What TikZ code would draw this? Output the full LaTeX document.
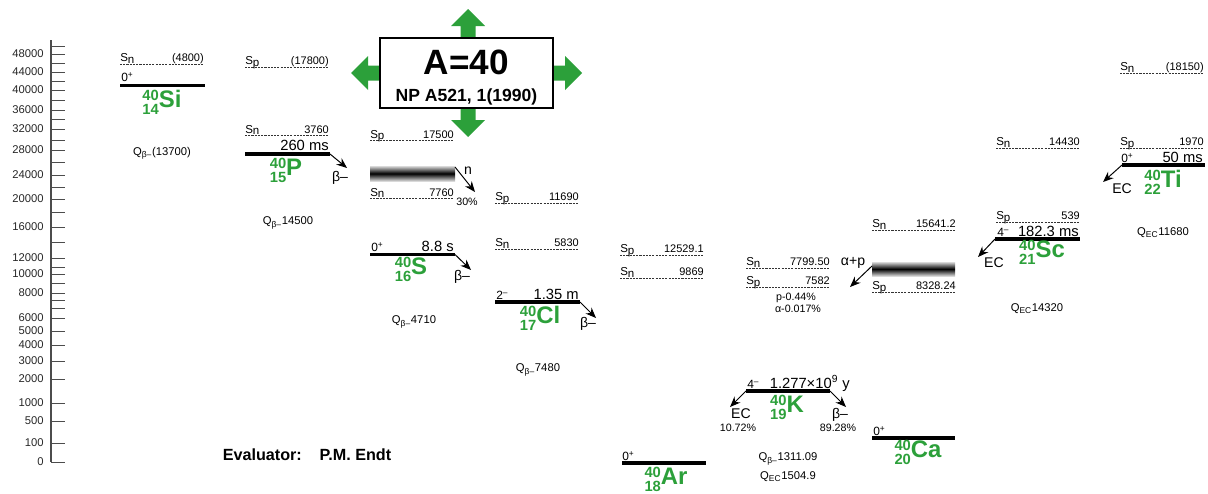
\documentclass[tikz,border=0pt]{standalone}
\usepackage{fontspec}
\setmainfont{Liberation Sans}
\usetikzlibrary{arrows.meta}
\definecolor{nucgreen}{RGB}{44,160,58}

% green nuclide symbol: mass over charge, then element
\newcommand{\nucl}[3]{\textcolor{nucgreen}{\bfseries
  \fontsize{10.5}{8.8}\selectfont\begin{tabular}{@{}r@{}}#1\\#2\end{tabular}%
  \fontsize{17}{17}\selectfont #3}}
\newcommand{\qval}[2]{Q\textsubscript{#1}#2}
% separation energy: name, x, y, n/p, value
\newcommand{\sepen}[5]{%
  \draw[sepline] (#2,#3) -- (#2+84,#3);
  \node[seplab, anchor=base west] (#1l) at (#2,#3-2.5) {S\raisebox{-1.3pt}{#4}};
  \node[sepval, anchor=base east] (#1v) at (#2+84,#3-2.5) {#5};}
% ground level: name, x1, x2, y
\newcommand{\lev}[4]{%
  \coordinate (#1a) at (#2,#4); \coordinate (#1b) at (#3,#4);
  \draw[level] (#1a) -- (#1b);}

\begin{document}
\begin{tikzpicture}[x=0.025cm, y=-0.025cm,
    level/.style={line width=2.2pt},
    sepline/.style={line width=0.5pt, dash pattern=on 1.5pt off 0.8pt, black!80},
    seplab/.style={inner sep=0pt, font=\fontsize{8.2}{8}\selectfont},
    sepval/.style={inner sep=0pt, font=\fontsize{7.8}{8}\selectfont},
    spin/.style={inner sep=0pt, font=\fontsize{8.5}{9}\selectfont},
    life/.style={inner sep=0pt, font=\fontsize{10.5}{11}\selectfont},
    decay/.style={line width=0.7pt, -{Stealth[length=7.5pt, width=6pt]}},
    dlab/.style={inner sep=0pt, font=\fontsize{10}{10}\selectfont},
    small/.style={inner sep=0pt, font=\fontsize{7.6}{8}\selectfont},
    qlab/.style={inner sep=0pt, font=\fontsize{8}{8}\selectfont},
    axlab/.style={inner sep=0pt, anchor=east, font=\fontsize{8}{8}\selectfont, black!85}]
  \useasboundingbox (0,0) rectangle (1208,493);

  % energy axis
  \draw[black!70, line width=0.8pt] (51,40) -- (51,462);
  \foreach \y in {46,63,81,100,119,140,162,187,212,242,267,283,300,308}
    \draw[black!70, line width=0.7pt] (51,\y) -- (65,\y);
  \foreach \v/\y in {48000/54,44000/72,40000/90,36000/110,32000/129,28000/150,
      24000/175,20000/199,16000/227,12000/258,10000/274,8000/293,6000/318,
      5000/331,4000/345,3000/361,2000/379,1000/403,500/421,100/443,0/462} {
    \draw[black!70, line width=0.7pt] (51,\y) -- (65,\y);
    \node[axlab] (ax\v) at (44,\y) {\v};
  }

  % title box with arrows
  \foreach \a/\cx/\cy in {0/468/38, 90/380/73, 180/468/108, -90/553/73}
    \fill[nucgreen, shift={(\cx,\cy)}, rotate=\a]
      (-7.5,0) -- (-7.5,-12) -- (-17,-12) -- (0,-29) -- (17,-12) -- (7.5,-12) -- (7.5,0) -- cycle;
  \node[draw, line width=1.5pt, fill=white, minimum width=4.325cm, minimum height=1.75cm] (tbox) at (466.5,73) {};
  \node[font=\bfseries\fontsize{25}{25}\selectfont] (ttl) at (466.5,62) {A=40};
  \node[font=\bfseries\fontsize{12.5}{13}\selectfont] (tref) at (466.5,97) {NP A521, 1(1990)};

  % 40Si
  \sepen{siSn}{120}{64}{n}{(4800)}
  \lev{si}{120}{205}{85.5}
  \node[spin, anchor=base west] (siJ) at (121,81) {0\textsuperscript{+}};
  \node (siN) at (162,104) {\nucl{40}{14}{Si}};
  \node[qlab] (siQ) at (162,153) {\qval{β–}{(13700)}};

  % 40P
  \sepen{pSp}{245}{67}{p}{(17800)}
  \sepen{pSn}{245}{135.5}{n}{3760}
  \lev{p}{245}{330}{154}
  \node[life, anchor=base east] (pT) at (329,150) {260 ms};
  \coordinate (pE) at (347,168);
  \draw[decay] (pb) -- (pE);
  \node[dlab] (pD) at (340,178) {β–};
  \node (pN) at (286,172) {\nucl{40}{15}{P}};
  \node[qlab] (pQ) at (288,223) {\qval{β–}{14500}};

  % 40S
  \sepen{sSp}{370}{140.5}{p}{17500}
  \shade[top color=black!15, bottom color=black!15, middle color=black] (370,166) rectangle (455,181);
  \coordinate (sbd) at (455,167); \coordinate (snE) at (475,192);
  \draw[decay] (sbd) -- (snE);
  \node[dlab] (sn) at (468,171) {n};
  \sepen{sSn}{370}{198.5}{n}{7760}
  \node[small] (sPct) at (467,202) {30\%};
  \lev{s}{370}{455}{254.5}
  \node[spin, anchor=base west] (sJ) at (371,251) {0\textsuperscript{+}};
  \node[life, anchor=base east] (sT) at (454,251) {8.8 s};
  \coordinate (sE) at (471,270);
  \draw[decay] (sb) -- (sE);
  \node[dlab] (sD) at (462,277) {β–};
  \node (sN) at (411,271) {\nucl{40}{16}{S}};
  \node[qlab] (sQ) at (414,322) {\qval{β–}{4710}};

  % 40Cl
  \sepen{clSp}{495}{203}{p}{11690}
  \sepen{clSn}{495}{249}{n}{5830}
  \lev{cl}{495}{580}{302}
  \node[spin, anchor=base west] (clJ) at (496,299) {2\textsuperscript{–}};
  \node[life, anchor=base east] (clT) at (579,299) {1.35 m};
  \coordinate (clE) at (596,318);
  \draw[decay] (clb) -- (clE);
  \node[dlab] (clD) at (588,324) {β–};
  \node (clN) at (540,320) {\nucl{40}{17}{Cl}};
  \node[qlab] (clQ) at (538,370) {\qval{β–}{7480}};

  % 40Ar
  \sepen{arSp}{620}{255}{p}{12529.1}
  \sepen{arSn}{620}{278}{n}{9869}
  \lev{ar}{622}{706}{463}
  \node[spin, anchor=base west] (arJ) at (622,460) {0\textsuperscript{+}};
  \node (arN) at (666,481) {\nucl{40}{18}{Ar}};

  % 40K
  \sepen{kSn}{746}{268}{n}{7799.50}
  \sepen{kSp}{746}{287}{p}{7582}
  \node[small] (kP) at (796,298) {p-0.44\%};
  \node[small] (kA) at (798,309) {α-0.017\%};
  \lev{k}{746}{830}{391}
  \node[spin, anchor=base west] (kJ) at (747,388) {4\textsuperscript{–}};
  \node[life, anchor=base east] (kT) at (850,388) {1.277×10\textsuperscript{9} y};
  \coordinate (kEC) at (730,407); \coordinate (kBE) at (846,407);
  \draw[decay] (ka) -- (kEC);
  \draw[decay] (kb) -- (kBE);
  \node[dlab] (kD1) at (741,414) {EC};
  \node[small] (kP1) at (738,428) {10.72\%};
  \node[dlab] (kD2) at (840,415) {β–};
  \node[small] (kP2) at (838,428) {89.28\%};
  \node (kN) at (787,409) {\nucl{40}{19}{K}};
  \node[qlab] (kQ1) at (788,459) {\qval{β–}{1311.09}};
  \node[qlab] (kQ2) at (788,477) {\qval{EC}{1504.9}};

  % 40Ca
  \sepen{caSn}{872}{230}{n}{15641.2}
  \shade[top color=black!15, bottom color=black!15, middle color=black] (872,262) rectangle (955,276);
  \coordinate (cabd) at (872,266); \coordinate (caE) at (850,287);
  \draw[decay] (cabd) -- (caE);
  \node[dlab] (caD) at (853,263) {α+p};
  \sepen{caSp}{872}{292}{p}{8328.24}
  \lev{ca}{872}{955}{438}
  \node[spin, anchor=base west] (caJ) at (873,435) {0\textsuperscript{+}};
  \node (caN) at (918,454) {\nucl{40}{20}{Ca}};

  % 40Sc
  \sepen{scSn}{996}{148}{n}{14430}
  \sepen{scSp}{996}{222}{p}{539}
  \lev{sc}{995}{1080}{239}
  \node[spin, anchor=base west] (scJ) at (997,236) {4\textsuperscript{–}};
  \node[life, anchor=base east] (scT) at (1079,236) {182.3 ms};
  \coordinate (scE) at (978,257);
  \draw[decay] (sca) -- (scE);
  \node[dlab] (scD) at (994,263) {EC};
  \node (scN) at (1042,254) {\nucl{40}{21}{Sc}};
  \node[qlab] (scQ) at (1037,309) {\qval{EC}{14320}};

  % 40Ti
  \sepen{tiSn}{1120}{73}{n}{(18150)}
  \sepen{tiSp}{1120}{148}{p}{1970}
  \lev{ti}{1122}{1205}{165}
  \node[spin, anchor=base west] (tiJ) at (1121,162) {0\textsuperscript{+}};
  \node[life, anchor=base east] (tiT) at (1203,162) {50 ms};
  \coordinate (tiE) at (1103,182);
  \draw[decay] (tia) -- (tiE);
  \node[dlab] (tiD) at (1122,189) {EC};
  \node (tiN) at (1163,184) {\nucl{40}{22}{Ti}};
  \node[qlab] (tiQ) at (1163,233) {\qval{EC}{11680}};

  \node[font=\bfseries\fontsize{11.5}{12}\selectfont] (eval) at (307,455) {Evaluator:\hspace{1.1em}P.M. Endt};
\end{tikzpicture}
\end{document}
